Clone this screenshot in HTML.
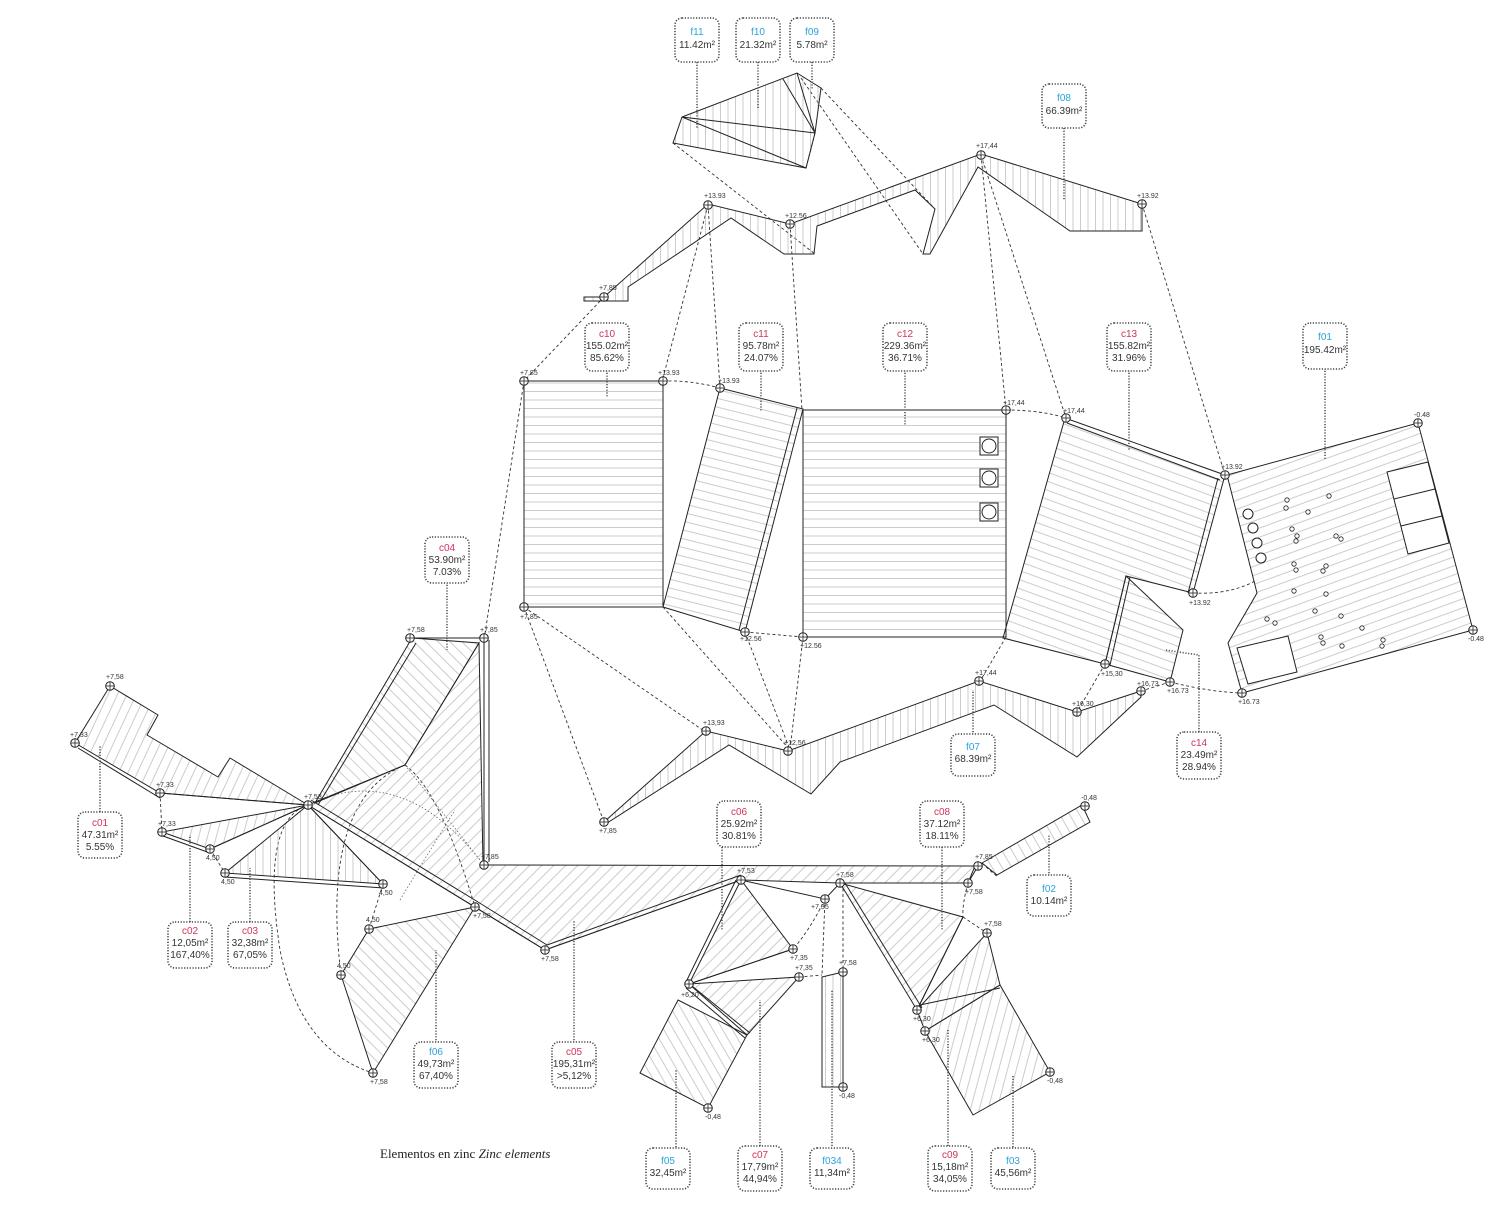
<!DOCTYPE html>
<html><head><meta charset="utf-8"><style>
html,body{margin:0;padding:0;background:#fff;}
svg{display:block;}
text{font-family:"Liberation Sans",Arial,sans-serif;}
.e{font-size:7px;fill:#333;}
.lb{font-size:10px;fill:#333;text-anchor:middle;}
.r{fill:#d2335a;}
.b{fill:#2aa3d8;}
.bx{fill:#fff;stroke:#444;stroke-width:1.6;stroke-dasharray:1.2 1.6;}
.ld{stroke:#555;stroke-width:1.6;stroke-dasharray:1.2 1.6;fill:none;}
.s{stroke:#222;stroke-width:1;}
path.s,g.s{fill:none;}
.d{fill:none;stroke:#333;stroke-width:0.9;stroke-dasharray:3 2.5;}
.dt{fill:none;stroke:#666;stroke-width:0.8;stroke-dasharray:1.5 2;}
</style></head><body>
<svg width="1512" height="1207" viewBox="0 0 1512 1207" xmlns="http://www.w3.org/2000/svg">
<defs>
<pattern id="hH" width="8" height="8.5" patternUnits="userSpaceOnUse"><line x1="0" y1="0.5" x2="8" y2="0.5" stroke="#aaa" stroke-width="0.6"/></pattern>
<pattern id="hV" width="7.5" height="7" patternUnits="userSpaceOnUse"><line x1="0.5" y1="0" x2="0.5" y2="7" stroke="#aaa" stroke-width="0.6"/></pattern>
<pattern id="h45" width="8.5" height="8" patternUnits="userSpaceOnUse" patternTransform="rotate(45)"><line x1="0.5" y1="0" x2="0.5" y2="8" stroke="#aaa" stroke-width="0.6"/></pattern>
<pattern id="h135" width="8.5" height="8" patternUnits="userSpaceOnUse" patternTransform="rotate(-45)"><line x1="0.5" y1="0" x2="0.5" y2="8" stroke="#aaa" stroke-width="0.6"/></pattern>
<pattern id="h60" width="8.5" height="8" patternUnits="userSpaceOnUse" patternTransform="rotate(-30)"><line x1="0.5" y1="0" x2="0.5" y2="8" stroke="#aaa" stroke-width="0.6"/></pattern>
<pattern id="h15" width="8.5" height="8" patternUnits="userSpaceOnUse" patternTransform="rotate(15)"><line x1="0.5" y1="0" x2="0.5" y2="8" stroke="#aaa" stroke-width="0.6"/></pattern>
<pattern id="hC01" width="8.5" height="8" patternUnits="userSpaceOnUse" patternTransform="rotate(25)"><line x1="0.5" y1="0" x2="0.5" y2="8" stroke="#aaa" stroke-width="0.6"/></pattern>
<pattern id="hC13" width="8" height="8.5" patternUnits="userSpaceOnUse" patternTransform="rotate(20)"><line x1="0" y1="0.5" x2="8" y2="0.5" stroke="#aaa" stroke-width="0.6"/></pattern>
<pattern id="hC11" width="8" height="8.5" patternUnits="userSpaceOnUse" patternTransform="rotate(14)"><line x1="0" y1="0.5" x2="8" y2="0.5" stroke="#aaa" stroke-width="0.6"/></pattern>
<pattern id="hF01" width="8" height="8.5" patternUnits="userSpaceOnUse" patternTransform="rotate(-20)"><line x1="0" y1="0.5" x2="8" y2="0.5" stroke="#aaa" stroke-width="0.6"/></pattern>
<g id="m"><circle r="4.3" fill="#fff" stroke="#222" stroke-width="1"/><line x1="-4.3" y1="0" x2="4.3" y2="0" stroke="#222" stroke-width="0.8"/><line x1="0" y1="-4.3" x2="0" y2="4.3" stroke="#222" stroke-width="0.8"/></g>
</defs>

<g class="d">
<path d="M673,143 L815,254"/><path d="M801,78 L923,254"/><path d="M821,88 L935,209"/><path d="M815,133 L806,168"/>
<path d="M604,297 L524,381"/><path d="M708,205 L663,378"/><path d="M708,205 L720,388"/><path d="M790,224 L802,410"/>
<path d="M981,155 L1006,410"/><path d="M981,155 L1066,418"/><path d="M1142,204 L1225,475"/>
<path d="M663,381 Q690,380 720,388"/><path d="M1006,410 Q1040,410 1066,418"/>
<path d="M524,381 L484,640"/><path d="M524,607 L604,822"/><path d="M524,607 L707,733"/><path d="M663,607 L790,750"/>
<path d="M745,632 L790,750"/><path d="M803,637 L790,750"/><path d="M745,632 L803,637"/><path d="M1006,637 L979,683"/>
<path d="M1105,664 L1077,712"/><path d="M1193,593 Q1230,595 1257,580"/><path d="M1170,682 L1141,691"/><path d="M1170,682 Q1210,692 1242,693"/>
<path d="M825,899 Q810,930 793,949"/><path d="M825,899 L822,975"/><path d="M843,883 L843,972"/><path d="M799,977 L822,975"/>
<path d="M968,883 Q962,905 963,917"/><path d="M963,917 L987,933"/><path d="M982,863 Q1000,880 997,875"/>
<path d="M308,805 Q260,820 280,950 Q300,1050 373,1073"/>
<path d="M405,765 Q320,800 341,975"/>
<path d="M405,765 Q440,790 475,907"/>
<path d="M160,793 L162,832"/><path d="M210,849 L225,873"/><path d="M383,884 L369,929"/>
</g>
<g class="dt">
<path d="M308,805 Q400,760 480,860"/><path d="M308,805 L405,765 L480,860"/><path d="M400,900 Q430,850 455,810"/>
</g>

<polygon points="682,117 797,73 821,88 815,133 806,168 673,143" fill="url(#hV)" class="s"/>
<path class="s" d="M682,117 L815,133 M682,117 L806,168 M783,79 L815,133 M797,73 L815,133"/>

<polygon points="584,297 604,297 708,204 790,224 981,154 1142,204 1142,231 1070,231 978,167 930,254 923,254 935,209 915,190 817,226 814,254 784,254 731,218 628,287 628,301 584,301" fill="url(#hV)" class="s"/>

<rect x="524" y="381" width="139" height="226" fill="url(#hH)" class="s"/>
<polygon points="720,388 803,409 745,632 663,607" fill="url(#hC11)" class="s"/>
<path class="s" d="M797,408 L739,630"/>
<rect x="803" y="410" width="203" height="227" fill="url(#hH)" class="s"/>
<g class="s"><rect x="980" y="437" width="18" height="18" fill="#fff"/><circle cx="989" cy="446" r="7"/><rect x="980" y="469" width="18" height="18" fill="#fff"/><circle cx="989" cy="478" r="7"/><rect x="980" y="503" width="18" height="18" fill="#fff"/><circle cx="989" cy="512" r="7"/></g>
<polygon points="1065,418 1225,475 1193,593 1126,576 1105,664 1003,638" fill="url(#hC13)" class="s"/>
<path class="s" d="M1067,423 L1220,480 M1218,478 L1188,593"/>
<polygon points="1126,576 1183,630 1170,682 1105,664" fill="url(#hC13)" class="s"/>
<path class="s" d="M1130,577 L1110,665"/>
<polygon points="1227,475 1418,423 1473,630 1242,693 1228,643 1257,593" fill="url(#hF01)" class="s"/>
<g class="s">
<polygon points="1387,472 1428,462 1449,543 1408,554" fill="#fff"/><path d="M1394,499 L1435,489 M1401,526 L1442,516"/>
<polygon points="1237,648 1288,636 1297,672 1248,684" fill="#fff"/>
<circle cx="1248" cy="514" r="5" fill="#fff"/><circle cx="1253" cy="528" r="5" fill="#fff"/><circle cx="1257" cy="543" r="5" fill="#fff"/><circle cx="1261" cy="558" r="5" fill="#fff"/>
</g>
<g fill="#fff" stroke="#222" stroke-width="0.8">
<circle cx="1287" cy="500" r="2.2"/><circle cx="1286" cy="508" r="2.2"/><circle cx="1308" cy="512" r="2.2"/><circle cx="1329" cy="496" r="2.2"/><circle cx="1292" cy="529" r="2.2"/><circle cx="1297" cy="536" r="2.2"/><circle cx="1296" cy="541" r="2.2"/><circle cx="1336" cy="536" r="2.2"/><circle cx="1341" cy="539" r="2.2"/><circle cx="1294" cy="564" r="2.2"/><circle cx="1296" cy="570" r="2.2"/><circle cx="1326" cy="566" r="2.2"/><circle cx="1323" cy="571" r="2.2"/><circle cx="1294" cy="591" r="2.2"/><circle cx="1326" cy="594" r="2.2"/><circle cx="1315" cy="611" r="2.2"/><circle cx="1341" cy="616" r="2.2"/><circle cx="1267" cy="619" r="2.2"/><circle cx="1275" cy="623" r="2.2"/><circle cx="1362" cy="628" r="2.2"/><circle cx="1321" cy="637" r="2.2"/><circle cx="1323" cy="643" r="2.2"/><circle cx="1342" cy="646" r="2.2"/><circle cx="1383" cy="640" r="2.2"/><circle cx="1382" cy="646" r="2.2"/>
</g>

<polygon points="604,822 706,731 788,751 979,681 1077,712 1141,691 1141,697 1077,757 994,705 840,762 811,794 729,745 604,825" fill="url(#hV)" class="s"/>

<polygon points="110,686 158,715 147,735 218,777 230,758 308,805 160,793 75,743" fill="url(#hC01)" class="s"/>
<path class="s" d="M78,748 L160,798"/>
<polygon points="308,805 162,832 210,849" fill="url(#h15)" class="s"/>
<path class="s" d="M163,836 L210,853"/>
<polygon points="308,805 225,873 383,884" fill="url(#hV)" class="s"/>
<path class="s" d="M225,877 L383,888 M308,805 L160,793 M308,805 L210,849 M308,805 L383,884"/>
<polygon points="479,643 483,865 975,866 968,883 840,883 741,880 545,950 308,805 405,765" fill="url(#h45)" class="s"/>
<polygon points="412,638 479,643 405,765 315,803" fill="url(#h135)" class="s"/>
<path class="s" d="M410,638 L482,638 M416,643 L318,805 M484,640 L484,862 M489,640 L489,862"/>
<path class="s" d="M308,805 L475,907 L545,950 M311,800 L478,902 L547,945 M545,950 L741,880 M547,945 L741,875"/>
<polygon points="369,929 475,907 373,1073 341,975" fill="url(#h135)" class="s"/>

<polygon points="741,880 793,949 689,984" fill="url(#h45)" class="s"/>
<polygon points="689,984 799,977 747,1035" fill="url(#h45)" class="s"/>
<path class="s" d="M689,984 L793,949 M741,880 L825,899 L840,883"/>
<path class="s" d="M736,880 L685,984 M692,986 L750,1033 M686,988 L745,1038"/>
<polygon points="678,1000 747,1035 708,1108 640,1073" fill="url(#h60)" class="s"/>
<polygon points="822,977 843,972 843,1087 822,1087" fill="url(#hV)" class="s"/>
<polygon points="840,883 963,917 917,1010" fill="url(#h45)" class="s"/>
<path class="s" d="M845,883 L922,1008"/>
<polygon points="917,1010 987,933 1000,985 925,1031" fill="url(#h15)" class="s"/>
<path class="s" d="M917,1010 L963,917 M920,1005 L1000,988"/>
<polygon points="925,1031 1000,985 1050,1072 973,1115" fill="url(#h15)" class="s"/>
<polygon points="982,863 1082,805 1090,822 997,875" fill="url(#h60)" class="s"/>
<path class="s" d="M978,866 L968,883"/>

<g>
<use href="#m" x="708" y="205"/><use href="#m" x="790" y="224"/><use href="#m" x="981" y="155"/><use href="#m" x="1142" y="204"/><use href="#m" x="604" y="297"/>
<use href="#m" x="524" y="381"/><use href="#m" x="663" y="381"/><use href="#m" x="720" y="388"/><use href="#m" x="1006" y="410"/><use href="#m" x="1066" y="418"/><use href="#m" x="1225" y="475"/><use href="#m" x="1418" y="423"/><use href="#m" x="1473" y="630"/>
<use href="#m" x="524" y="607"/><use href="#m" x="745" y="632"/><use href="#m" x="803" y="637"/><use href="#m" x="1193" y="593"/><use href="#m" x="1105" y="664"/><use href="#m" x="1170" y="682"/><use href="#m" x="1242" y="693"/>
<use href="#m" x="979" y="681"/><use href="#m" x="1077" y="712"/><use href="#m" x="1141" y="691"/><use href="#m" x="706" y="731"/><use href="#m" x="788" y="751"/><use href="#m" x="604" y="822"/>
<use href="#m" x="410" y="638"/><use href="#m" x="484" y="638"/><use href="#m" x="484" y="865"/><use href="#m" x="110" y="686"/><use href="#m" x="75" y="743"/><use href="#m" x="160" y="793"/><use href="#m" x="162" y="832"/><use href="#m" x="210" y="849"/><use href="#m" x="225" y="873"/><use href="#m" x="383" y="884"/><use href="#m" x="308" y="805"/><use href="#m" x="475" y="907"/><use href="#m" x="545" y="950"/><use href="#m" x="369" y="929"/><use href="#m" x="341" y="975"/><use href="#m" x="373" y="1073"/>
<use href="#m" x="741" y="880"/><use href="#m" x="825" y="899"/><use href="#m" x="840" y="883"/><use href="#m" x="793" y="949"/><use href="#m" x="799" y="977"/><use href="#m" x="689" y="984"/><use href="#m" x="708" y="1108"/><use href="#m" x="843" y="972"/><use href="#m" x="843" y="1087"/>
<use href="#m" x="978" y="866"/><use href="#m" x="968" y="883"/><use href="#m" x="987" y="933"/><use href="#m" x="917" y="1010"/><use href="#m" x="925" y="1031"/><use href="#m" x="1050" y="1072"/><use href="#m" x="1085" y="806"/>
</g>
<g class="e">
<text x="704" y="198">+13.93</text><text x="785" y="218">+12.56</text><text x="976" y="148">+17,44</text><text x="1137" y="198">+13.92</text><text x="599" y="290">+7,85</text>
<text x="520" y="375">+7,85</text><text x="658" y="375">+13.93</text><text x="718" y="383">+13.93</text><text x="1003" y="405">+17,44</text><text x="1063" y="413">+17,44</text><text x="1221" y="469">+13.92</text><text x="1414" y="417">-0.48</text><text x="1468" y="641">-0.48</text>
<text x="520" y="619">+7,85</text><text x="740" y="641">+12.56</text><text x="800" y="648">+12.56</text><text x="1189" y="605">+13.92</text><text x="1101" y="676">+15,30</text><text x="1137" y="686">+16,73</text><text x="1167" y="693">+16.73</text><text x="1238" y="704">+16.73</text>
<text x="975" y="675">+17,44</text><text x="1072" y="706">+16,30</text><text x="703" y="725">+13,93</text><text x="784" y="745">+12,56</text><text x="599" y="833">+7,85</text>
<text x="407" y="632">+7,58</text><text x="480" y="632">+7,85</text><text x="481" y="859">+7,85</text><text x="106" y="679">+7,58</text><text x="70" y="737">+7,33</text><text x="156" y="787">+7,33</text><text x="158" y="826">+7,33</text><text x="206" y="860">4,50</text><text x="221" y="884">4,50</text><text x="379" y="895">4,50</text><text x="304" y="799">+7,58</text><text x="473" y="918">+7,58</text><text x="541" y="961">+7,58</text><text x="366" y="922">4,50</text><text x="337" y="968">4,50</text><text x="370" y="1084">+7,58</text>
<text x="737" y="873">+7,53</text><text x="811" y="909">+7,35</text><text x="836" y="877">+7,58</text><text x="790" y="960">+7,35</text><text x="795" y="970">+7,35</text><text x="681" y="997">+6,20</text><text x="705" y="1119">-0,48</text><text x="839" y="965">+7,58</text><text x="839" y="1098">-0,48</text>
<text x="975" y="859">+7,85</text><text x="965" y="894">+7,58</text><text x="984" y="926">+7,58</text><text x="913" y="1021">+6,30</text><text x="922" y="1042">+6,30</text><text x="1047" y="1083">-0,48</text><text x="1081" y="800">-0,48</text>
</g>

<g class="ld">
<path d="M697,62 V128"/><path d="M758,62 V108"/><path d="M812,62 V90"/><path d="M1064,128 V200"/>
<path d="M607,370 V398"/><path d="M761,370 V412"/><path d="M905,370 V425"/><path d="M1129,370 V450"/><path d="M1325,368 V460"/>
<path d="M447,582 V650"/><path d="M973,735 V690"/><path d="M1199,732 V655 L1165,650"/><path d="M100,812 V745"/>
<path d="M722,847 V930"/><path d="M942,847 V930"/><path d="M1049,876 V835"/><path d="M190,922 V835"/><path d="M250,922 V868"/>
<path d="M436,1043 V950"/><path d="M574,1043 V920"/><path d="M676,1150 V1070"/><path d="M760,1146 V1000"/><path d="M832,1146 V990"/><path d="M948,1146 V1030"/><path d="M1013,1150 V1075"/>
</g>

<g>
<rect class="bx" x="675" y="18" width="44" height="44" rx="7"/><text class="lb b" x="697" y="35">f11</text><text class="lb" x="697" y="48">11.42m²</text>
<rect class="bx" x="736" y="18" width="44" height="44" rx="7"/><text class="lb b" x="758" y="35">f10</text><text class="lb" x="758" y="48">21.32m²</text>
<rect class="bx" x="790" y="18" width="44" height="44" rx="7"/><text class="lb b" x="812" y="35">f09</text><text class="lb" x="812" y="48">5.78m²</text>
<rect class="bx" x="1042" y="84" width="44" height="44" rx="7"/><text class="lb b" x="1064" y="101">f08</text><text class="lb" x="1064" y="114">66.39m²</text>
<rect class="bx" x="585" y="323" width="44" height="48" rx="7"/><text class="lb r" x="607" y="337">c10</text><text class="lb" x="607" y="349">155.02m²</text><text class="lb" x="607" y="361">85.62%</text>
<rect class="bx" x="739" y="323" width="44" height="48" rx="7"/><text class="lb r" x="761" y="337">c11</text><text class="lb" x="761" y="349">95.78m²</text><text class="lb" x="761" y="361">24.07%</text>
<rect class="bx" x="883" y="323" width="44" height="48" rx="7"/><text class="lb r" x="905" y="337">c12</text><text class="lb" x="905" y="349">229.36m²</text><text class="lb" x="905" y="361">36.71%</text>
<rect class="bx" x="1107" y="323" width="44" height="48" rx="7"/><text class="lb r" x="1129" y="337">c13</text><text class="lb" x="1129" y="349">155.82m²</text><text class="lb" x="1129" y="361">31.96%</text>
<rect class="bx" x="1303" y="323" width="44" height="46" rx="7"/><text class="lb b" x="1325" y="340">f01</text><text class="lb" x="1325" y="353">195.42m²</text>
<rect class="bx" x="425" y="537" width="44" height="46" rx="7"/><text class="lb r" x="447" y="551">c04</text><text class="lb" x="447" y="563">53.90m²</text><text class="lb" x="447" y="575">7.03%</text>
<rect class="bx" x="951" y="734" width="44" height="42" rx="7"/><text class="lb b" x="973" y="750">f07</text><text class="lb" x="973" y="762">68.39m²</text>
<rect class="bx" x="1177" y="732" width="44" height="47" rx="7"/><text class="lb r" x="1199" y="746">c14</text><text class="lb" x="1199" y="758">23.49m²</text><text class="lb" x="1199" y="770">28.94%</text>
<rect class="bx" x="78" y="812" width="44" height="46" rx="7"/><text class="lb r" x="100" y="826">c01</text><text class="lb" x="100" y="838">47.31m²</text><text class="lb" x="100" y="850">5.55%</text>
<rect class="bx" x="717" y="801" width="44" height="46" rx="7"/><text class="lb r" x="739" y="815">c06</text><text class="lb" x="739" y="827">25.92m²</text><text class="lb" x="739" y="839">30.81%</text>
<rect class="bx" x="920" y="801" width="44" height="46" rx="7"/><text class="lb r" x="942" y="815">c08</text><text class="lb" x="942" y="827">37.12m²</text><text class="lb" x="942" y="839">18.11%</text>
<rect class="bx" x="1027" y="875" width="44" height="41" rx="7"/><text class="lb b" x="1049" y="892">f02</text><text class="lb" x="1049" y="904">10.14m²</text>
<rect class="bx" x="168" y="922" width="44" height="46" rx="7"/><text class="lb r" x="190" y="934">c02</text><text class="lb" x="190" y="946">12,05m²</text><text class="lb" x="190" y="958">167,40%</text>
<rect class="bx" x="228" y="922" width="44" height="46" rx="7"/><text class="lb r" x="250" y="934">c03</text><text class="lb" x="250" y="946">32,38m²</text><text class="lb" x="250" y="958">67,05%</text>
<rect class="bx" x="414" y="1042" width="44" height="46" rx="7"/><text class="lb b" x="436" y="1055">f06</text><text class="lb" x="436" y="1067">49,73m²</text><text class="lb" x="436" y="1079">67,40%</text>
<rect class="bx" x="552" y="1042" width="44" height="46" rx="7"/><text class="lb r" x="574" y="1055">c05</text><text class="lb" x="574" y="1067">195,31m²</text><text class="lb" x="574" y="1079">&gt;5,12%</text>
<rect class="bx" x="646" y="1148" width="44" height="41" rx="7"/><text class="lb b" x="668" y="1164">f05</text><text class="lb" x="668" y="1176">32,45m²</text>
<rect class="bx" x="738" y="1146" width="44" height="45" rx="7"/><text class="lb r" x="760" y="1158">c07</text><text class="lb" x="760" y="1170">17,79m²</text><text class="lb" x="760" y="1182">44,94%</text>
<rect class="bx" x="810" y="1148" width="44" height="41" rx="7"/><text class="lb b" x="832" y="1164">f034</text><text class="lb" x="832" y="1176">11,34m²</text>
<rect class="bx" x="928" y="1146" width="44" height="45" rx="7"/><text class="lb r" x="950" y="1158">c09</text><text class="lb" x="950" y="1170">15,18m²</text><text class="lb" x="950" y="1182">34,05%</text>
<rect class="bx" x="991" y="1148" width="44" height="41" rx="7"/><text class="lb b" x="1013" y="1164">f03</text><text class="lb" x="1013" y="1176">45,56m²</text>
</g>

<text x="380" y="1158" style="font-family:'Liberation Serif',serif;font-size:13px;fill:#222;">Elementos en zinc  <tspan font-style="italic">Zinc elements</tspan></text>
</svg>
</body></html>
